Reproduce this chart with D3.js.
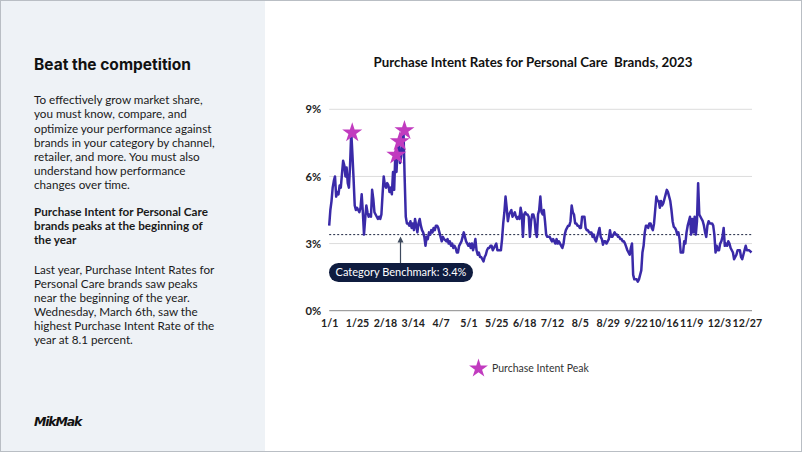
<!DOCTYPE html>
<html><head><meta charset="utf-8">
<script src="https://cdn.jsdelivr.net/npm/d3@7"></script>
<style>
html,body{margin:0;padding:0;background:#fff;}
svg{display:block;}
</style></head>
<body>
<svg id="c" width="802" height="452"></svg>
<script>
const title = "Purchase Intent Rates for Personal Care  Brands, 2023";
const startDate = "2023-01-01";
// daily purchase intent rate (%), 1/1 .. 12/31
const values = [
3.8,4.5,4.9,5.5,5.8,6.0,5.1,5.3,5.2,5.6,5.5,6.1,6.7,6.5,6.0,6.4,5.7,5.5,6.5,8.0,
7.0,5.9,4.7,4.5,4.6,4.5,4.4,4.6,5.2,4.4,3.4,4.1,4.7,4.4,4.2,4.3,4.2,5.4,5.0,4.4,
4.3,4.2,4.1,4.2,4.1,4.3,5.2,6.0,5.6,5.5,5.7,5.6,5.3,5.5,5.2,6.2,5.4,7.0,6.2,7.2,
7.6,6.6,6.9,7.5,8.1,6.0,4.2,3.9,3.9,3.8,4.0,3.7,3.9,3.6,4.1,3.8,3.5,3.9,4.1,3.8,
3.6,3.5,3.3,2.9,3.3,3.2,3.5,3.4,3.6,3.5,3.7,3.6,3.8,3.8,3.7,3.5,3.3,3.1,3.3,3.2,
3.15,3.1,3.2,3.0,3.1,2.9,3.0,2.8,2.9,2.8,2.6,2.6,2.9,3.0,3.1,3.3,3.5,3.3,3.1,3.0,2.9,
3.0,2.8,3.0,2.7,2.9,3.2,2.7,2.5,2.6,2.4,2.4,2.3,2.2,2.4,2.5,2.7,2.8,2.8,2.9,2.9,
2.7,2.8,2.9,3.0,2.7,2.7,2.7,2.7,3.2,3.9,4.4,5.1,4.6,4.0,4.3,4.4,4.5,4.2,4.3,4.4,
4.2,4.1,4.2,4.1,4.6,4.3,3.3,4.3,4.4,4.3,4.3,4.2,3.3,4.0,4.3,4.3,4.1,3.5,3.3,4.3,
4.5,5.1,4.4,4.3,4.5,4.0,3.4,3.3,3.3,3.3,3.2,3.1,3.2,3.1,3.0,3.2,3.0,3.1,3.0,2.9,2.8,
3.0,3.4,3.6,3.7,3.8,3.8,4.0,4.7,4.4,4.3,3.9,3.9,3.8,3.8,3.7,3.7,4.2,4.2,4.2,3.7,
3.6,3.6,3.5,3.5,3.5,3.3,3.4,3.2,3.1,3.3,3.5,3.7,3.3,3.2,2.95,3.1,3.1,3.0,3.1,3.2,
3.6,3.3,3.3,3.4,3.5,3.4,3.4,3.3,3.3,3.2,3.2,3.1,3.1,3.0,2.85,2.7,2.6,2.5,2.8,3.0,
1.6,1.4,1.4,1.4,1.3,1.4,1.6,1.8,2.6,2.9,3.5,3.8,3.8,3.7,3.9,3.9,3.7,3.6,3.9,4.5,
5.1,4.9,4.9,4.6,4.9,4.7,4.8,5.0,5.2,5.4,5.3,5.1,4.9,4.5,4.0,3.75,3.7,3.6,3.4,3.5,
3.2,2.6,2.6,2.6,3.1,3.0,3.5,3.8,4.0,4.2,3.4,4.1,3.5,4.2,3.4,4.0,5.7,4.3,4.2,4.1,
4.0,3.8,3.5,3.3,3.8,4.0,3.9,3.9,3.9,3.8,3.4,2.6,2.9,2.7,2.7,3.0,3.1,3.3,3.7,2.9,
3.0,2.9,3.1,3.0,2.8,2.7,2.6,2.3,2.4,2.5,2.7,2.7,2.7,2.4,2.3,2.5,2.7,2.9,2.7,2.7,
2.7,2.65,2.6
];
const peakDays = [19, 57, 60, 64];
const benchmark = 3.4;
const yTicks = [0, 3, 6, 9];
const xTickLabels = ["1/1","1/25","2/18","3/14","4/7","5/1","5/25","6/18","7/12","8/5","8/29","9/22","10/16","11/9","12/3","12/27"];
const benchmarkLabel = "Category Benchmark: 3.4%";
const legendLabel = "Purchase Intent Peak";

const leftHeading = "Beat the competition";
const para1 = ["To effectively grow market share,","you must know, compare, and","optimize your performance against","brands in your category by channel,","retailer, and more. You must also","understand how performance","changes over time."];
const para2 = ["Purchase Intent for Personal Care","brands peaks at the beginning of","the year"];
const para3 = ["Last year, Purchase Intent Rates for","Personal Care brands saw peaks","near the beginning of the year.","Wednesday, March 6th, saw the","highest Purchase Intent Rate of the","year at 8.1 percent."];

const svg = d3.select("#c");
const W = 802, H = 452;
// left panel
svg.append("rect").attr("x",0).attr("y",0).attr("width",265).attr("height",H).attr("fill","#eef2f6");
svg.append("rect").attr("x",0.5).attr("y",0.5).attr("width",W-1).attr("height",H-1).attr("fill","none").attr("stroke","#b9bec4");

const body = "Lato, 'Open Sans', sans-serif";
svg.append("text").attr("x",34).attr("y",70).attr("font-family","Inter, Roboto, sans-serif").attr("font-weight",700).attr("font-size",15.5).attr("fill","#111").text(leftHeading);
function para(lines, y0, weight){
  lines.forEach((l,i)=>svg.append("text").attr("x",34).attr("y",y0+i*14.1).attr("font-family",body).attr("font-weight",weight).attr("font-size",11.7).attr("fill","#1a1a1a").text(l));
}
para(para1, 104.3, 400);
para(para2, 216, 700);
para(para3, 273.5, 400);
svg.append("text").attr("x",34).attr("y",426).attr("font-family","'DejaVu Sans', sans-serif").attr("font-style","italic").attr("font-weight",700).attr("font-size",12.5).attr("letter-spacing",-1.2).attr("fill","#111").text("MikMak");

// chart
const parse = d3.timeParse("%Y-%m-%d");
const t0 = parse(startDate);
const data = values.map((v,i)=>({date:d3.timeDay.offset(t0,i), v}));
const x = d3.scaleTime().domain([t0, d3.timeDay.offset(t0, values.length-1)]).range([329.2, 751.5]);
const y = d3.scaleLinear().domain([0,9]).range([310.7,109.3]);

svg.append("text").attr("x",533).attr("y",67).attr("text-anchor","middle").attr("font-family",body).attr("font-weight",700).attr("font-size",13.3).attr("fill","#111").style("white-space","pre").text(title);

// grid
const g = svg.append("g");
g.selectAll("line.grid").data(yTicks.filter(d=>d>0)).join("line")
  .attr("x1",329.2).attr("x2",752).attr("y1",d=>y(d)).attr("y2",d=>y(d))
  .attr("stroke","#dcdcdc").attr("stroke-width",1);
g.append("line").attr("x1",329.2).attr("x2",752).attr("y1",y(0)).attr("y2",y(0)).attr("stroke","#8a8a8a").attr("stroke-width",1);

const yAxis = d3.axisLeft(y).tickValues(yTicks).tickSize(0).tickPadding(8).tickFormat(d=>d+"%");
const ya = svg.append("g").attr("transform","translate(329.2,0)").call(yAxis);
ya.select(".domain").remove();
ya.selectAll("text").attr("font-family",body).attr("font-weight",700).attr("font-size",11.2).attr("fill","#222");

const tickDates = xTickLabels.map((_,i)=>d3.timeDay.offset(t0, i*24));
const xAxis = d3.axisBottom(x).tickValues(tickDates).tickSize(0).tickPadding(9).tickFormat((d,i)=>xTickLabels[i]);
const xa = svg.append("g").attr("transform",`translate(0,${y(0)})`).call(xAxis);
xa.select(".domain").remove();
xa.selectAll("text").attr("font-family",body).attr("font-weight",700).attr("font-size",10.6).attr("fill","#222");

// benchmark
svg.append("line").attr("x1",329.2).attr("x2",752).attr("y1",y(benchmark)).attr("y2",y(benchmark))
  .attr("stroke","#1d2540").attr("stroke-width",1).attr("stroke-dasharray","2,2");

// line
const line = d3.line().x(d=>x(d.date)).y(d=>y(d.v));
svg.append("path").datum(data).attr("d",line).attr("fill","none").attr("stroke","#3a2aa8").attr("stroke-width",2.5).attr("stroke-linejoin","round");

// stars
const star = d3.symbol().type(d3.symbolStar).size(125);
svg.selectAll("path.star").data(peakDays).join("path")
  .attr("transform",d=>`translate(${x(data[d].date)+1},${y(data[d].v)+1})`)
  .attr("d",star).attr("fill","#c13bbf");

// annotation
const ax = 400.5;
svg.append("line").attr("x1",ax).attr("x2",ax).attr("y1",263).attr("y2",y(benchmark)+4).attr("stroke","#3e4a5e").attr("stroke-width",1.2);
svg.append("path").attr("d",`M${ax-3},${y(benchmark)+8} L${ax},${y(benchmark)+2} L${ax+3},${y(benchmark)+8} Z`).attr("fill","#3e4a5e");
svg.append("rect").attr("x",329).attr("y",263).attr("width",144).attr("height",19).attr("rx",9.5).attr("fill","#0f1c3f");
svg.append("text").attr("x",401).attr("y",276.3).attr("text-anchor","middle").attr("font-family",body).attr("font-size",11).attr("fill","#fff").text(benchmarkLabel);

// legend
svg.append("path").attr("transform","translate(478.5,368.5)").attr("d",d3.symbol().type(d3.symbolStar).size(110)()).attr("fill","#c13bbf");
svg.append("text").attr("x",492).attr("y",372).attr("font-family",body).attr("font-size",10.5).attr("fill","#333").text(legendLabel);
</script>
</body></html>
